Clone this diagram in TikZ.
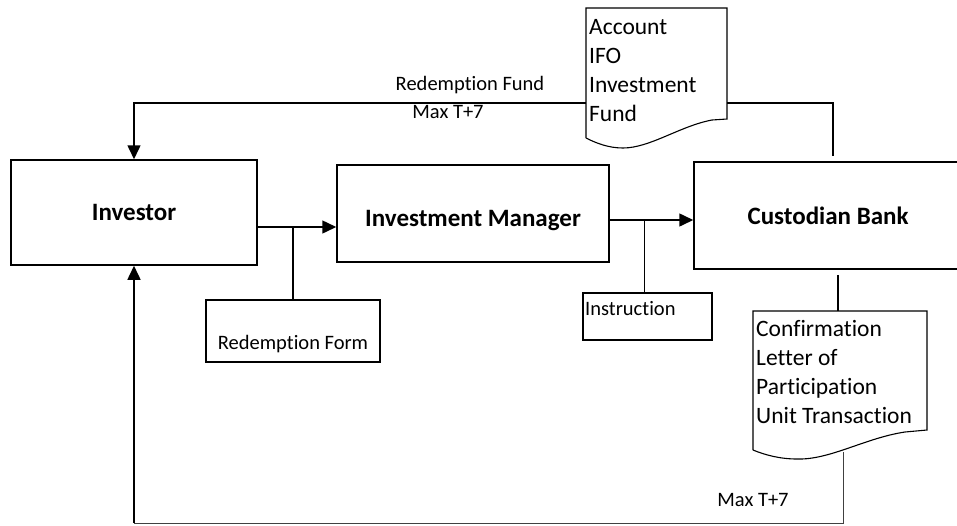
\documentclass[tikz,border=0pt]{standalone}
\usepackage{fontspec}
\setmainfont{Carlito}[RawFeature=-liga]
\usetikzlibrary{arrows.meta}

\tikzset{
  mainbox/.style={draw, line width=1.5pt, font=\fontsize{25}{30}\selectfont\bfseries},
  smallbox/.style={draw, line width=1.1pt},
  doctext/.style={align=flush left, inner xsep=3pt, inner ysep=4pt, font=\fontsize{23.5}{29}\selectfont},
  label/.style={font=\fontsize{20.5}{24}\selectfont},
  flow/.style={line width=1.5pt, -{Triangle[length=14pt,width=13pt]}},
  link/.style={line width=1.1pt}
}

\begin{document}
\begin{tikzpicture}[x=1pt,y=-1pt]
\useasboundingbox (0,0) rectangle (957,525);

\node[mainbox, minimum width=246, minimum height=105] (investor) at (134,212.5) {Investor};
\node[mainbox, minimum width=272, minimum height=97, text height=31pt, text depth=6pt] (manager) at (473,213.5) {Investment Manager};
\node[mainbox, minimum width=268, minimum height=107] (bank) at (828,215.5) {Custodian Bank};

\node[smallbox, minimum width=174, minimum height=62] (rform) at (293,331) {};
\node[label] at ([yshift=19pt]rform.south) {Redemption Form};
\node[smallbox, minimum width=129, minimum height=47] (instr) at (647.5,316.5) {};
\node[label, anchor=west, inner sep=1pt] at (584,309) {Instruction};

\node[doctext, anchor=north west, text width=135pt] (account) at (586,15) {Account\\IFO\\Investment\\Fund};
\draw[smallbox] (586,138) -- (586,8) -- (727,8) -- (727,119)
  -- (712,120) .. controls (680,126) and (650,148) .. (623,148) .. controls (608,148) and (596,143) .. (586,138);

\node[doctext, anchor=north west, text width=168pt] (confirm) at (753,316) {Confirmation\\Letter of\\Participation\\Unit Transaction};
\draw[smallbox] (753,450) -- (753,311) -- (927,311) -- (927,430)
  -- (905,432) .. controls (865,438) and (830,460) .. (797,459) .. controls (780,459) and (765,455) .. (753,450);

\draw[flow] ([yshift=-14.5pt]investor.east) -- ([yshift=-14.5pt]investor.east -| manager.west);
\draw[link] (rform.north) -- (rform.north |- 0,227);
\draw[flow] ([yshift=-6.5pt]manager.east) -- ([yshift=-6.5pt]manager.east -| bank.west);
\draw[link] ([xshift=-3pt]instr.north) -- ([xshift=-3pt]instr.north |- 0,220);

\draw[link, line width=1.5pt] (727,103) -| ([xshift=5pt, yshift=5pt]bank.north);
\draw[flow] (586,103) -| (investor.north);
\node[label] at (470,85) {Redemption Fund};
\node[label] at (448,112) {Max T+7};

\draw[link] ([xshift=10pt, yshift=-5pt]bank.south) -- ([xshift=10pt]bank.south |- 0,311);
\coordinate (turn) at (134,523);
\draw[line width=0.8pt, black!75] (843,452) |- (turn);
\draw[flow] (turn) -- (investor.south);
\node[label] at (753,500) {Max T+7};
\end{tikzpicture}
\end{document}
